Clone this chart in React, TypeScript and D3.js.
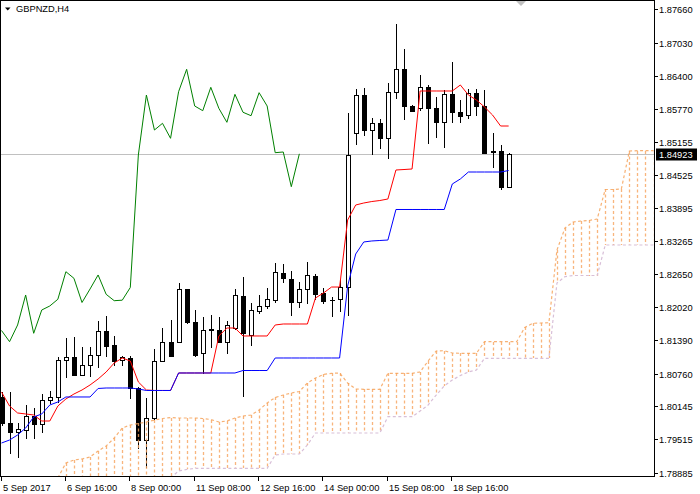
import React from "react";
import * as d3 from "d3";

const symbolTitle = "GBPNZD,H4";

const opens = [
  1.80319, 1.79821, 1.7965, 1.79694, 1.79964, 1.79807, 1.80262, 1.80324, 1.81019, 1.81082,
  1.80735, 1.80924, 1.81114, 1.81568, 1.81303, 1.81019, 1.81051, 1.80483, 1.79504, 1.79915,
  1.81, 1.81354, 1.81366, 1.82358, 1.81744, 1.81146, 1.81597, 1.81587, 1.81366, 1.81619,
  1.82237, 1.81493, 1.81953, 1.82042, 1.82155, 1.82672, 1.82553, 1.82108, 1.82358, 1.82619,
  1.82282, 1.82161, 1.82169, 1.82407, 1.85312, 1.86037, 1.85374, 1.85501, 1.85217, 1.861,
  1.86524, 1.85829, 1.85785, 1.86183, 1.85797, 1.8552, 1.8605, 1.85721, 1.85658, 1.86081,
  1.85829, 1.84971, 1.84977, 1.84301,
];
const highs = [
  1.80413, 1.80419, 1.79821, 1.80167, 1.80105, 1.80375, 1.80438, 1.8107, 1.8143, 1.81449,
  1.81271, 1.81271, 1.81758, 1.81852, 1.81474, 1.81095, 1.81095, 1.80514, 1.80294, 1.81222,
  1.81619, 1.81777, 1.82471, 1.82364, 1.81966, 1.81839, 1.81871, 1.81839, 1.81763, 1.82358,
  1.82597, 1.82093, 1.8225, 1.82388, 1.82862, 1.82837, 1.82704, 1.82496, 1.82881, 1.82648,
  1.82377, 1.82218, 1.82534, 1.85691, 1.86145, 1.86164, 1.85596, 1.85577, 1.8627, 1.87382,
  1.86903, 1.85848, 1.86416, 1.86227, 1.86005, 1.86132, 1.86668, 1.85942, 1.86145, 1.86145,
  1.86132, 1.85312, 1.8509, 1.84935,
];
const lows = [
  1.79788, 1.79252, 1.79188, 1.79536, 1.79536, 1.79661, 1.80205, 1.8023, 1.80703, 1.80726,
  1.80726, 1.80716, 1.80892, 1.81095, 1.80924, 1.80924, 1.80294, 1.79347, 1.78993, 1.7991,
  1.80991, 1.81095, 1.8136, 1.81714, 1.81095, 1.80767, 1.81271, 1.81356, 1.81146, 1.816,
  1.80343, 1.81303, 1.81903, 1.81998, 1.82123, 1.82502, 1.81871, 1.82023, 1.82089, 1.82169,
  1.82093, 1.81852, 1.81938, 1.81871, 1.85109, 1.8528, 1.84914, 1.85028, 1.84839, 1.85975,
  1.85577, 1.85725, 1.85753, 1.85134, 1.85248, 1.85058, 1.85532, 1.85532, 1.85596, 1.85658,
  1.84933, 1.84679, 1.84251, 1.84295,
];
const closes = [
  1.79826, 1.79661, 1.79713, 1.79964, 1.79807, 1.80262, 1.80324, 1.81019, 1.81082, 1.80735,
  1.80924, 1.81114, 1.81568, 1.81284, 1.81, 1.8107, 1.80483, 1.79504, 1.79927, 1.81,
  1.81354, 1.81095, 1.82358, 1.81744, 1.81114, 1.81587, 1.81578, 1.81366, 1.81682, 1.8225,
  1.81525, 1.81966, 1.82042, 1.82169, 1.82691, 1.82566, 1.82108, 1.82364, 1.82629, 1.82263,
  1.82142, 1.82152, 1.82392, 1.84901, 1.86037, 1.85374, 1.85501, 1.85217, 1.861, 1.86524,
  1.85829, 1.8574, 1.86183, 1.85785, 1.8552, 1.8605, 1.8571, 1.85645, 1.86081, 1.85829,
  1.84945, 1.84958, 1.84301, 1.84923,
];

const tenkan = [
  1.80413, 1.80148, 1.80016, 1.79997, 1.79978, 1.79864, 1.79864, 1.80148, 1.80281, 1.80375,
  1.80451, 1.80546, 1.80659, 1.80792, 1.80962, 1.81057, 1.81, 1.80603, 1.80451, 1.80442,
  1.80442, 1.80442, 1.80773, 1.80773, 1.80773, 1.80773, 1.80773, 1.81474, 1.81625, 1.81625,
  1.81474, 1.81474, 1.81474, 1.81474, 1.81682, 1.81701, 1.81701, 1.81701, 1.81701, 1.82193,
  1.82288, 1.82401, 1.82401, 1.8367, 1.83954, 1.83992, 1.8402, 1.84039, 1.84068, 1.84617,
  1.84626, 1.84636, 1.86113, 1.86113, 1.86113, 1.86113, 1.86113, 1.86227, 1.86037, 1.85942,
  1.8581, 1.85658, 1.8545, 1.8545,
];
const kijun = [
  1.79447, 1.79504, 1.79599, 1.79731, 1.7994, 1.79997, 1.80167, 1.80224, 1.80319, 1.80319,
  1.80319, 1.80319, 1.8048, 1.80489, 1.80489, 1.80489, 1.80489, 1.8047, 1.80442, 1.80442,
  1.80442, 1.80442, 1.80773, 1.80773, 1.80773, 1.80773, 1.80773, 1.80773, 1.80773, 1.80773,
  1.8082, 1.8082, 1.8082, 1.8082, 1.81057, 1.81057, 1.81057, 1.81057, 1.81057, 1.81057,
  1.81057, 1.81057, 1.81057, 1.8242, 1.83026, 1.83254, 1.83273, 1.83282, 1.83291, 1.83869,
  1.83869, 1.83869, 1.83869, 1.83869, 1.83869, 1.83869, 1.84352, 1.84447, 1.84579, 1.84579,
  1.84579, 1.84579, 1.84579, 1.84607,
];

// Senkou spans, first value belongs to bar index cloudStart
const cloudStart = 7;
const senkouA = [
  1.78785, 1.79069, 1.79126, 1.79145, 1.79182, 1.79296, 1.79391, 1.79542, 1.79731, 1.79788,
  1.79817, 1.79845, 1.79883, 1.79911, 1.7993, 1.79921, 1.79921, 1.79921, 1.79911, 1.79892,
  1.79845, 1.79864, 1.79921, 1.79959, 1.79978, 1.80072, 1.80205, 1.80309, 1.80356, 1.80394,
  1.80423, 1.80584, 1.80678, 1.80745, 1.80767, 1.80773, 1.80584, 1.8047, 1.80464, 1.80464,
  1.80464, 1.80767, 1.80767, 1.80767, 1.80767, 1.80792, 1.81, 1.8119, 1.81195, 1.81152,
  1.81146, 1.81146, 1.81146, 1.81366, 1.81366, 1.81366, 1.81366, 1.81366, 1.81635, 1.81714,
  1.8172, 1.81725, 1.83102, 1.83519, 1.83632, 1.83651, 1.83661, 1.83689, 1.84248, 1.84248,
  1.84257, 1.84977, 1.84982, 1.84982, 1.84982,
];
const senkouB = [
  1.78652, 1.78652, 1.78652, 1.78652, 1.78652, 1.78652, 1.78652, 1.78652, 1.78652, 1.78652,
  1.78652, 1.78652, 1.78652, 1.78652, 1.78785, 1.78917, 1.78946, 1.78968, 1.78968, 1.78968,
  1.78968, 1.78968, 1.78968, 1.78968, 1.78968, 1.78968, 1.78968, 1.7922, 1.79239, 1.79239,
  1.79239, 1.7941, 1.79637, 1.79637, 1.79637, 1.79637, 1.79637, 1.79637, 1.79637, 1.79637,
  1.79637, 1.79945, 1.79945, 1.79945, 1.79945, 1.80053, 1.80167, 1.80356, 1.80527, 1.8064,
  1.80726, 1.80792, 1.8083, 1.81051, 1.81051, 1.81051, 1.81051, 1.81051, 1.81051, 1.81051,
  1.81051, 1.81051, 1.82477, 1.82597, 1.82619, 1.82619, 1.82619, 1.82619, 1.83197, 1.83197,
  1.83197, 1.83197, 1.83197, 1.83197, 1.83197,
];
const chikouShift = 26;

const priceTicks = [
  1.8766, 1.8703, 1.864, 1.8577, 1.85155, 1.84525, 1.83895, 1.83265, 1.8265, 1.8202,
  1.8139, 1.8076, 1.80145, 1.79515, 1.78885,
];
const timeLabels = [
  "5 Sep 2017", "6 Sep 16:00", "8 Sep 00:00", "11 Sep 08:00",
  "12 Sep 16:00", "14 Sep 00:00", "15 Sep 08:00", "18 Sep 16:00",
];
const timeLabelStep = 8;
const lastPrice = 1.84923;

const W = 700;
const H = 494;
const PR = 654;
const PB = 476;
const FONT = "'Liberation Sans', Arial, sans-serif";
const CLOUD = "#f6a35c";

export default function App() {
  const x = d3.scaleLinear().domain([0, 81]).range([1.5, 653.55]);
  const y = d3.scaleLinear().domain([1.78885, 1.8766]).range([472.7, 9.3]);
  const cxOf = (i: number) => Math.round(x(i));

  const line = d3
    .line<number>()
    .x((_, i) => x(i))
    .y((d) => y(d));
  const cloudLine = d3
    .line<number>()
    .x((_, k) => x(k + cloudStart))
    .y((d) => y(d));
  const chikou = closes.slice(chikouShift);

  return (
    <svg
      width={W}
      height={H}
      style={{ position: "absolute", left: 0, top: 0, background: "#fff" }}
    >
      <defs>
        <clipPath id="plot">
          <rect x={1} y={1} width={PR - 1} height={PB - 1} />
        </clipPath>
      </defs>
      <rect x={0} y={0} width={W} height={H} fill="#fff" />

      <g clipPath="url(#plot)">
        {/* bid line */}
        <line
          x1={0}
          x2={PR}
          y1={Math.round(y(lastPrice)) + 0.5}
          y2={Math.round(y(lastPrice)) + 0.5}
          stroke="#c0c0c0"
        />
        {/* candles */}
        {opens.map((o, i) => {
          const c = closes[i];
          const cx = cxOf(i);
          const bull = c >= o;
          const t = Math.round(y(Math.max(o, c)));
          const b = Math.round(y(Math.min(o, c)));
          return (
            <g key={i}>
              <line
                x1={cx + 0.5}
                x2={cx + 0.5}
                y1={Math.round(y(highs[i]))}
                y2={Math.round(y(lows[i])) + 1}
                stroke="#000"
              />
              {b - t >= 1 ? (
                <rect
                  x={cx - 1.5}
                  y={t + 0.5}
                  width={4}
                  height={b - t}
                  fill={bull ? "#fff" : "#000"}
                  stroke="#000"
                />
              ) : (
                <line
                  x1={cx - 2}
                  x2={cx + 3}
                  y1={t + 0.5}
                  y2={t + 0.5}
                  stroke="#000"
                />
              )}
            </g>
          );
        })}
        {/* cloud hatch */}
        {senkouA.map((a, k) => {
          const cx = cxOf(k + cloudStart) + 0.5;
          return (
            <line
              key={"h" + k}
              x1={cx}
              x2={cx}
              y1={Math.round(y(a))}
              y2={Math.round(y(senkouB[k]))}
              stroke={CLOUD}
              strokeOpacity={0.8}
              strokeWidth={1.3}
              strokeDasharray="3,2.5"
            />
          );
        })}
        <path
          d={cloudLine(senkouB) || ""}
          fill="none"
          stroke="#d8bfd8"
          strokeWidth={1.2}
          strokeDasharray="3,2.5"
        />
        <path
          d={cloudLine(senkouA) || ""}
          fill="none"
          stroke={CLOUD}
          strokeOpacity={0.85}
          strokeWidth={1.2}
          strokeDasharray="3,2.5"
        />
        <path d={line(tenkan) || ""} fill="none" stroke="#ff0000" />
        <path d={line(kijun) || ""} fill="none" stroke="#0000ff" />
        <path d={line(chikou) || ""} fill="none" stroke="#008000" />
      </g>

      {/* chart shift marker */}
      <polygon points="516,1 526,1 521,6" fill="#c0c0c0" />

      {/* frame */}
      <rect x={0.5} y={0.5} width={PR} height={PB} fill="none" stroke="#000" />

      {/* title */}
      <polygon points="5,7.5 10.5,7.5 7.75,10.5" fill="#000" />
      <text x={16} y={12} fontFamily={FONT} fontSize={9.3} fill="#000">
        {symbolTitle}
      </text>

      {/* price axis */}
      {priceTicks.map((p) => {
        const ty = Math.round(y(p)) + 0.5;
        return (
          <g key={p}>
            <line x1={PR} x2={PR + 4} y1={ty} y2={ty} stroke="#000" />
            <text
              x={659}
              y={ty}
              dy="0.35em"
              fontFamily={FONT}
              fontSize={9.3}
              fill="#000"
            >
              {p.toFixed(5)}
            </text>
          </g>
        );
      })}
      <rect
        x={656}
        y={Math.round(y(lastPrice)) - 5.5}
        width={41}
        height={12}
        fill="#000"
      />
      <text
        x={659}
        y={Math.round(y(lastPrice)) + 0.5}
        dy="0.35em"
        fontFamily={FONT}
        fontSize={9.3}
        fill="#fff"
      >
        {lastPrice.toFixed(5)}
      </text>

      {/* time axis */}
      {timeLabels.map((lab, k) => {
        const tx = cxOf(k * timeLabelStep) - 0.5;
        return (
          <g key={lab}>
            <line x1={tx} x2={tx} y1={PB} y2={PB + 5} stroke="#000" />
            <text x={tx + 1.5} y={491} fontFamily={FONT} fontSize={9.3} fill="#000">
              {lab}
            </text>
          </g>
        );
      })}
    </svg>
  );
}
